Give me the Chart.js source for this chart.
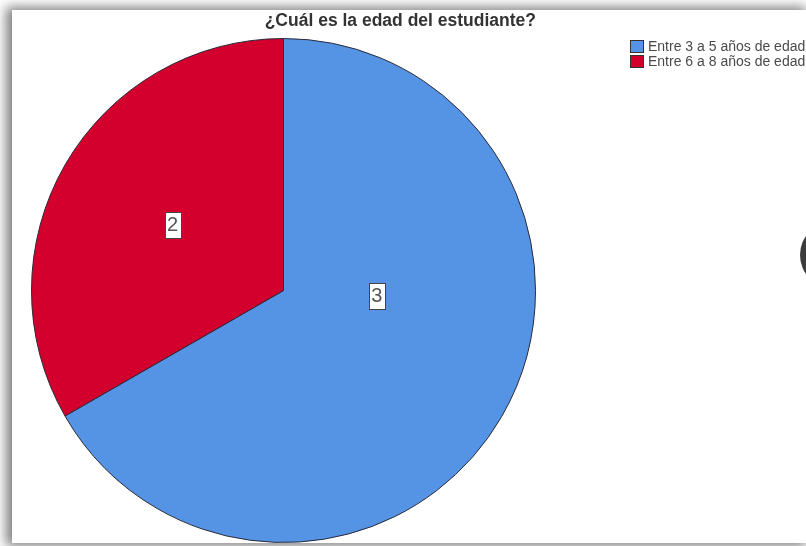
<!DOCTYPE html>
<html>
<head>
<meta charset="utf-8">
<script src="https://cdn.jsdelivr.net/npm/chart.js@4/dist/chart.umd.min.js"></script>
<style>
  html, body { margin: 0; padding: 0; background: #fff; width: 806px; height: 546px; overflow: hidden; }
  #frame {
    position: absolute; left: 12px; top: 10px; width: 794px; height: 533px;
    background: #fff; box-shadow: -3px 0 11px 3px rgba(0,0,0,0.5);
  }
</style>
</head>
<body>
<div id="frame"><canvas id="edadChart"></canvas></div>
<script>
// legend / slice categories
const categories = ['Entre 3 a 5 años de edad', 'Entre 6 a 8 años de edad'];
// numbers printed on the slices
const counts = [3, 2];
// slice sizes as drawn in the picture (blue ~240°, red ~120°)
const sliceShares = [66.7, 33.3];
const sliceColors = ['#5594e5', '#d3002e'];

// where each value box sits, relative to the pie centre (in radii)
const labelSpots = [[0.37, 0.02], [-0.44, -0.26]];

const sliceLabels = {
    id: 'sliceLabels',
    afterDatasetsDraw(chart) {
        const ctx = chart.ctx;
        const meta = chart.getDatasetMeta(0);
        ctx.save();
        ctx.font = '20px "Liberation Sans", Arial, sans-serif';
        ctx.textAlign = 'center';
        ctx.textBaseline = 'middle';
        meta.data.forEach((arc, i) => {
            const {x, y, outerRadius} = arc.getProps(['x', 'y', 'outerRadius'], true);
            const px = x + labelSpots[i][0] * outerRadius;
            const py = y + labelSpots[i][1] * outerRadius;
            const txt = String(counts[i]);
            const w = ctx.measureText(txt).width + 5;
            const h = 26;
            ctx.fillStyle = '#fff';
            ctx.fillRect(Math.round(px - w / 2) + 0.5, Math.round(py - h / 2) + 0.5, Math.round(w), h);
            ctx.strokeStyle = '#444';
            ctx.lineWidth = 1;
            ctx.strokeRect(Math.round(px - w / 2) + 0.5, Math.round(py - h / 2) + 0.5, Math.round(w), h);
            ctx.fillStyle = '#555';
            ctx.fillText(txt, px, py + 1);
        });
        ctx.restore();
    }
};

const sideLegend = {
    id: 'sideLegend',
    afterDraw(chart) {
        const ctx = chart.ctx;
        const ds = chart.data.datasets[0];
        ctx.save();
        ctx.font = '14px "Liberation Sans", Arial, sans-serif';
        ctx.textBaseline = 'middle';
        chart.data.labels.forEach((lab, i) => {
            const top = 30 + i * 15;
            ctx.fillStyle = ds.backgroundColor[i];
            ctx.fillRect(618.5, top + 0.5, 13, 12);
            ctx.strokeStyle = '#333';
            ctx.lineWidth = 1;
            ctx.strokeRect(618.5, top + 0.5, 13, 12);
            ctx.fillStyle = '#4a4a4a';
            ctx.fillText(lab, 636, top + 7);
        });
        // dark round shape cut off at the right edge
        ctx.fillStyle = '#3c3c3c';
        ctx.beginPath();
        ctx.arc(821, 245, 33, 0, Math.PI * 2);
        ctx.fill();
        ctx.restore();
    }
};

new Chart(document.getElementById('edadChart'), {
    type: 'pie',
    data: {
        labels: categories,
        datasets: [{
            data: sliceShares,
            backgroundColor: sliceColors,
            borderColor: '#2a2a3a',
            borderWidth: 1
        }]
    },
    options: {
        responsive: true,
        maintainAspectRatio: false,
        animation: false,
        layout: { padding: { left: 19, right: 270, top: 0, bottom: 0 } },
        plugins: {
            legend: { display: false },
            tooltip: { enabled: false },
            title: {
                display: true,
                text: '¿Cuál es la edad del estudiante?',
                align: 'end',
                color: '#333',
                font: { family: '"Liberation Sans", Arial, sans-serif', size: 17.5, weight: 'bold' },
                padding: { top: 1, bottom: 6 }
            }
        }
    },
    plugins: [sliceLabels, sideLegend]
});
</script>
</body>
</html>
